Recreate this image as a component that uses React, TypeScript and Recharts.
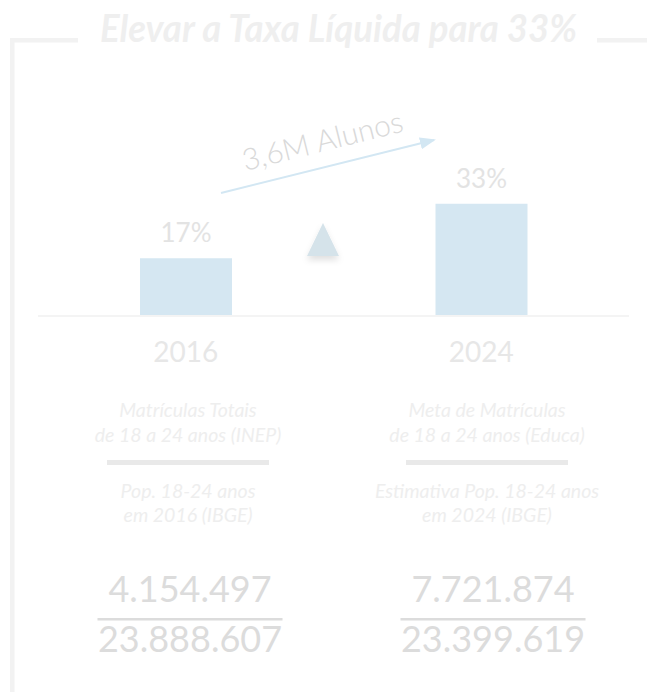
import { Bar, BarChart, LabelList, XAxis, YAxis } from "recharts";

const years = ["2016", "2024"];
const netRate = [17, 33];
const enrolled = [4154497, 7721874];
const population = [23888607, 23399619];
const enrolledNotes = [
  ["Matrículas Totais", "de 18 a 24 anos (INEP)"],
  ["Meta de Matrículas", "de 18 a 24 anos (Educa)"],
];
const populationNotes = [
  ["Pop. 18-24 anos", "em 2016 (IBGE)"],
  ["Estimativa Pop. 18-24 anos", "em 2024 (IBGE)"],
];
const title = "Elevar a Taxa Líquida para 33%";
const gainLabel = "3,6M Alunos";

const data = years.map((year, i) => ({ year, rate: netRate[i] }));

const W = 647;
const H = 692;
const textCols = [188, 487];
const numCols = [190, 493];

// 4154497 -> "4.154.497"
const fmt = (n: number) => String(n).replace(/\B(?=(\d{3})+(?!\d))/g, ".");

function YearTick({ x, y, payload }: any) {
  return (
    <text x={x} y={y + 46} textAnchor="middle" fontSize={28} fill="#e7e7e7">
      {payload.value}
    </text>
  );
}

function Decor() {
  return (
    <svg width={W} height={H} style={{ position: "absolute", left: 0, top: 0, pointerEvents: "none" }}>
      <defs>
        <filter id="tri-shadow" x="-50%" y="-50%" width="200%" height="200%">
          <feDropShadow dx="0" dy="4" stdDeviation="3" floodColor="#000" floodOpacity="0.12" />
        </filter>
        <marker id="arrowhead" markerWidth="8" markerHeight="6" refX="7" refY="3" orient="auto" markerUnits="strokeWidth">
          <path d="M0,0 L8,3 L0,6 Z" fill="#d3e7f3" />
        </marker>
      </defs>

      {/* frame */}
      <path d="M78,40.2 H12.3 V692" fill="none" stroke="#f2f2f2" strokeWidth={4.5} />
      <line x1={597} y1={40.2} x2={647} y2={40.2} stroke="#f2f2f2" strokeWidth={4.5} />
      <text
        x={100}
        y={42}
        fontSize={38}
        fontWeight={700}
        fontStyle="italic"
        fill="#efefef"
        textLength={477}
        lengthAdjust="spacingAndGlyphs"
      >
        {title}
      </text>

      {/* growth arrow */}
      <line x1={221} y1={193} x2={434} y2={140} stroke="#d3e7f3" strokeWidth={2} markerEnd="url(#arrowhead)" />
      <text
        x={325}
        y={151}
        textAnchor="middle"
        fontSize={30}
        fontWeight={300}
        fill="#d9d9d9"
        transform="rotate(-14 325 151)"
      >
        {gainLabel}
      </text>
      <polygon points="307,256 339,256 323,223" fill="#d5e3ea" filter="url(#tri-shadow)" />

      {/* notes */}
      {textCols.map((cx, i) => (
        <g key={"n" + i} fontSize={19.5} fontStyle="italic" fill="#eeeeee" textAnchor="middle">
          <text x={cx} y={417}>{enrolledNotes[i][0]}</text>
          <text x={cx} y={442}>{enrolledNotes[i][1]}</text>
          <rect x={cx - 81} y={460} width={162} height={5} fill="#e9e9e9" />
          <text x={cx} y={498}>{populationNotes[i][0]}</text>
          <text x={cx} y={522}>{populationNotes[i][1]}</text>
        </g>
      ))}

      {/* fractions */}
      {numCols.map((cx, i) => (
        <g key={"f" + i} fontSize={36} fill="#dcdcdc" textAnchor="middle">
          <text x={cx} y={602}>{fmt(enrolled[i])}</text>
          <rect x={cx - 92.5} y={618} width={185} height={2.5} fill="#dcdcdc" />
          <text x={cx} y={652}>{fmt(population[i])}</text>
        </g>
      ))}
    </svg>
  );
}

export default function App() {
  return (
    <div
      style={{
        position: "absolute",
        left: 0,
        top: 0,
        width: W,
        height: H,
        background: "#fff",
        fontFamily: "Lato, 'Noto Sans', sans-serif",
      }}
    >
      <BarChart width={W} height={H} data={data} margin={{ top: 146, right: 18, left: 38, bottom: 316 }}>
        <YAxis hide domain={[0, 50]} />
        <XAxis
          dataKey="year"
          height={60}
          tickLine={false}
          tickSize={0}
          tickMargin={0}
          axisLine={{ stroke: "#f4f4f4", strokeWidth: 2 }}
          tick={<YearTick />}
        />
        <Bar dataKey="rate" fill="#d5e7f2" barSize={92} isAnimationActive={false}>
          <LabelList
            dataKey="rate"
            position="top"
            offset={16}
            formatter={(v: any) => `${v}%`}
            fontSize={26}
            fill="#e3e3e3"
          />
        </Bar>
      </BarChart>
      <Decor />
    </div>
  );
}
